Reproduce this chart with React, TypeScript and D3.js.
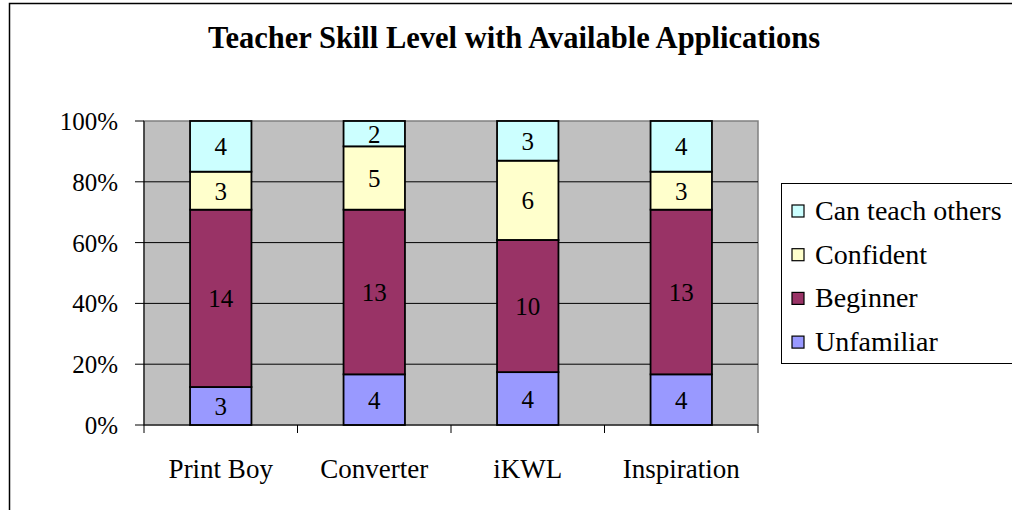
import * as d3 from "d3";

const categories = ["Print Boy", "Converter", "iKWL", "Inspiration"];
const seriesNames = ["Unfamiliar", "Beginner", "Confident", "Can teach others"];
const unfamiliar = [3, 4, 4, 4];
const beginner = [14, 13, 10, 13];
const confident = [3, 5, 6, 3];
const canTeach = [4, 2, 3, 4];
const tickValues = [0, 0.2, 0.4, 0.6, 0.8, 1];
const colors = ["#9999FF", "#993366", "#FFFFCC", "#CCFFFF"];

const W = 1012;
const H = 510;
const plot = { left: 144, right: 758, top: 121, bottom: 425 };
const font = "Liberation Serif, Times New Roman, serif";

export default function App() {
  const values = [unfamiliar, beginner, confident, canTeach];
  const rows = categories.map((c, i) => {
    const r: any = { cat: c };
    seriesNames.forEach((s, j) => (r[s] = values[j][i]));
    return r;
  });
  const stacked = d3.stack().keys(seriesNames).offset(d3.stackOffsetExpand)(rows);

  const x = d3
    .scaleBand()
    .domain(categories)
    .range([plot.left, plot.right])
    .paddingInner(0.6)
    .paddingOuter(0.3);
  const step = x.step();
  const y = d3.scaleLinear().domain([0, 1]).range([plot.bottom, plot.top]);
  const fmt = d3.format(".0%");

  return (
    <svg
      width={W}
      height={H}
      style={{ position: "absolute", left: 0, top: 0, fontFamily: font }}
    >
      <rect x={0} y={0} width={W} height={H} fill="#fff" />
      <rect x={9.5} y={3.5} width={W + 20} height={H + 20} fill="none" stroke="#000" strokeWidth={1.5} />

      <text x={514} y={48} textAnchor="middle" fontSize={30.5} fontWeight="bold">
        Teacher Skill Level with Available Applications
      </text>

      {/* plot area */}
      <rect
        x={plot.left}
        y={plot.top}
        width={plot.right - plot.left}
        height={plot.bottom - plot.top}
        fill="#C0C0C0"
        stroke="#808080"
        strokeWidth={1.5}
      />
      {tickValues.slice(1, -1).map((t) => (
        <line key={t} x1={plot.left} x2={plot.right} y1={y(t)} y2={y(t)} stroke="#000" strokeWidth={1} />
      ))}

      {stacked.map((layer, j) =>
        layer.map((d, i) => {
          const cat = categories[i];
          const y0 = y(d[0]);
          const y1 = y(d[1]);
          return (
            <g key={`${j}-${i}`}>
              <rect
                x={x(cat)}
                y={y1}
                width={x.bandwidth()}
                height={y0 - y1}
                fill={colors[j]}
                stroke="#000"
                strokeWidth={1.8}
              />
              <text
                x={(x(cat) as number) + x.bandwidth() / 2}
                y={(y0 + y1) / 2 + 9}
                textAnchor="middle"
                fontSize={25}
              >
                {values[j][i]}
              </text>
            </g>
          );
        })
      )}

      {/* y axis */}
      <line x1={plot.left} x2={plot.left} y1={plot.top} y2={plot.bottom} stroke="#000" strokeWidth={1} />
      {tickValues.map((t) => (
        <g key={t}>
          <line x1={plot.left - 9} x2={plot.left} y1={y(t)} y2={y(t)} stroke="#000" strokeWidth={1} />
          <text x={118} y={y(t) + 9} textAnchor="end" fontSize={25}>
            {fmt(t)}
          </text>
        </g>
      ))}

      {/* x axis */}
      <line x1={plot.left} x2={plot.right} y1={plot.bottom} y2={plot.bottom} stroke="#000" strokeWidth={1} />
      {d3.range(categories.length + 1).map((k) => (
        <line
          key={k}
          x1={plot.left + k * step}
          x2={plot.left + k * step}
          y1={plot.bottom}
          y2={plot.bottom + 8}
          stroke="#000"
          strokeWidth={1}
        />
      ))}
      {categories.map((c) => (
        <text key={c} x={(x(c) as number) + x.bandwidth() / 2} y={478} textAnchor="middle" fontSize={27}>
          {c}
        </text>
      ))}

      {/* legend */}
      <rect x={781.5} y={183.5} width={260} height={180} fill="#fff" stroke="#000" strokeWidth={1} />
      {[...seriesNames].reverse().map((s, k) => {
        const j = seriesNames.length - 1 - k;
        const cy = 211 + k * 43.7;
        return (
          <g key={s}>
            <rect x={792} y={cy - 6} width={12} height={12} fill={colors[j]} stroke="#000" strokeWidth={1.2} />
            <text x={815} y={cy + 9} fontSize={28}>
              {s}
            </text>
          </g>
        );
      })}
    </svg>
  );
}
